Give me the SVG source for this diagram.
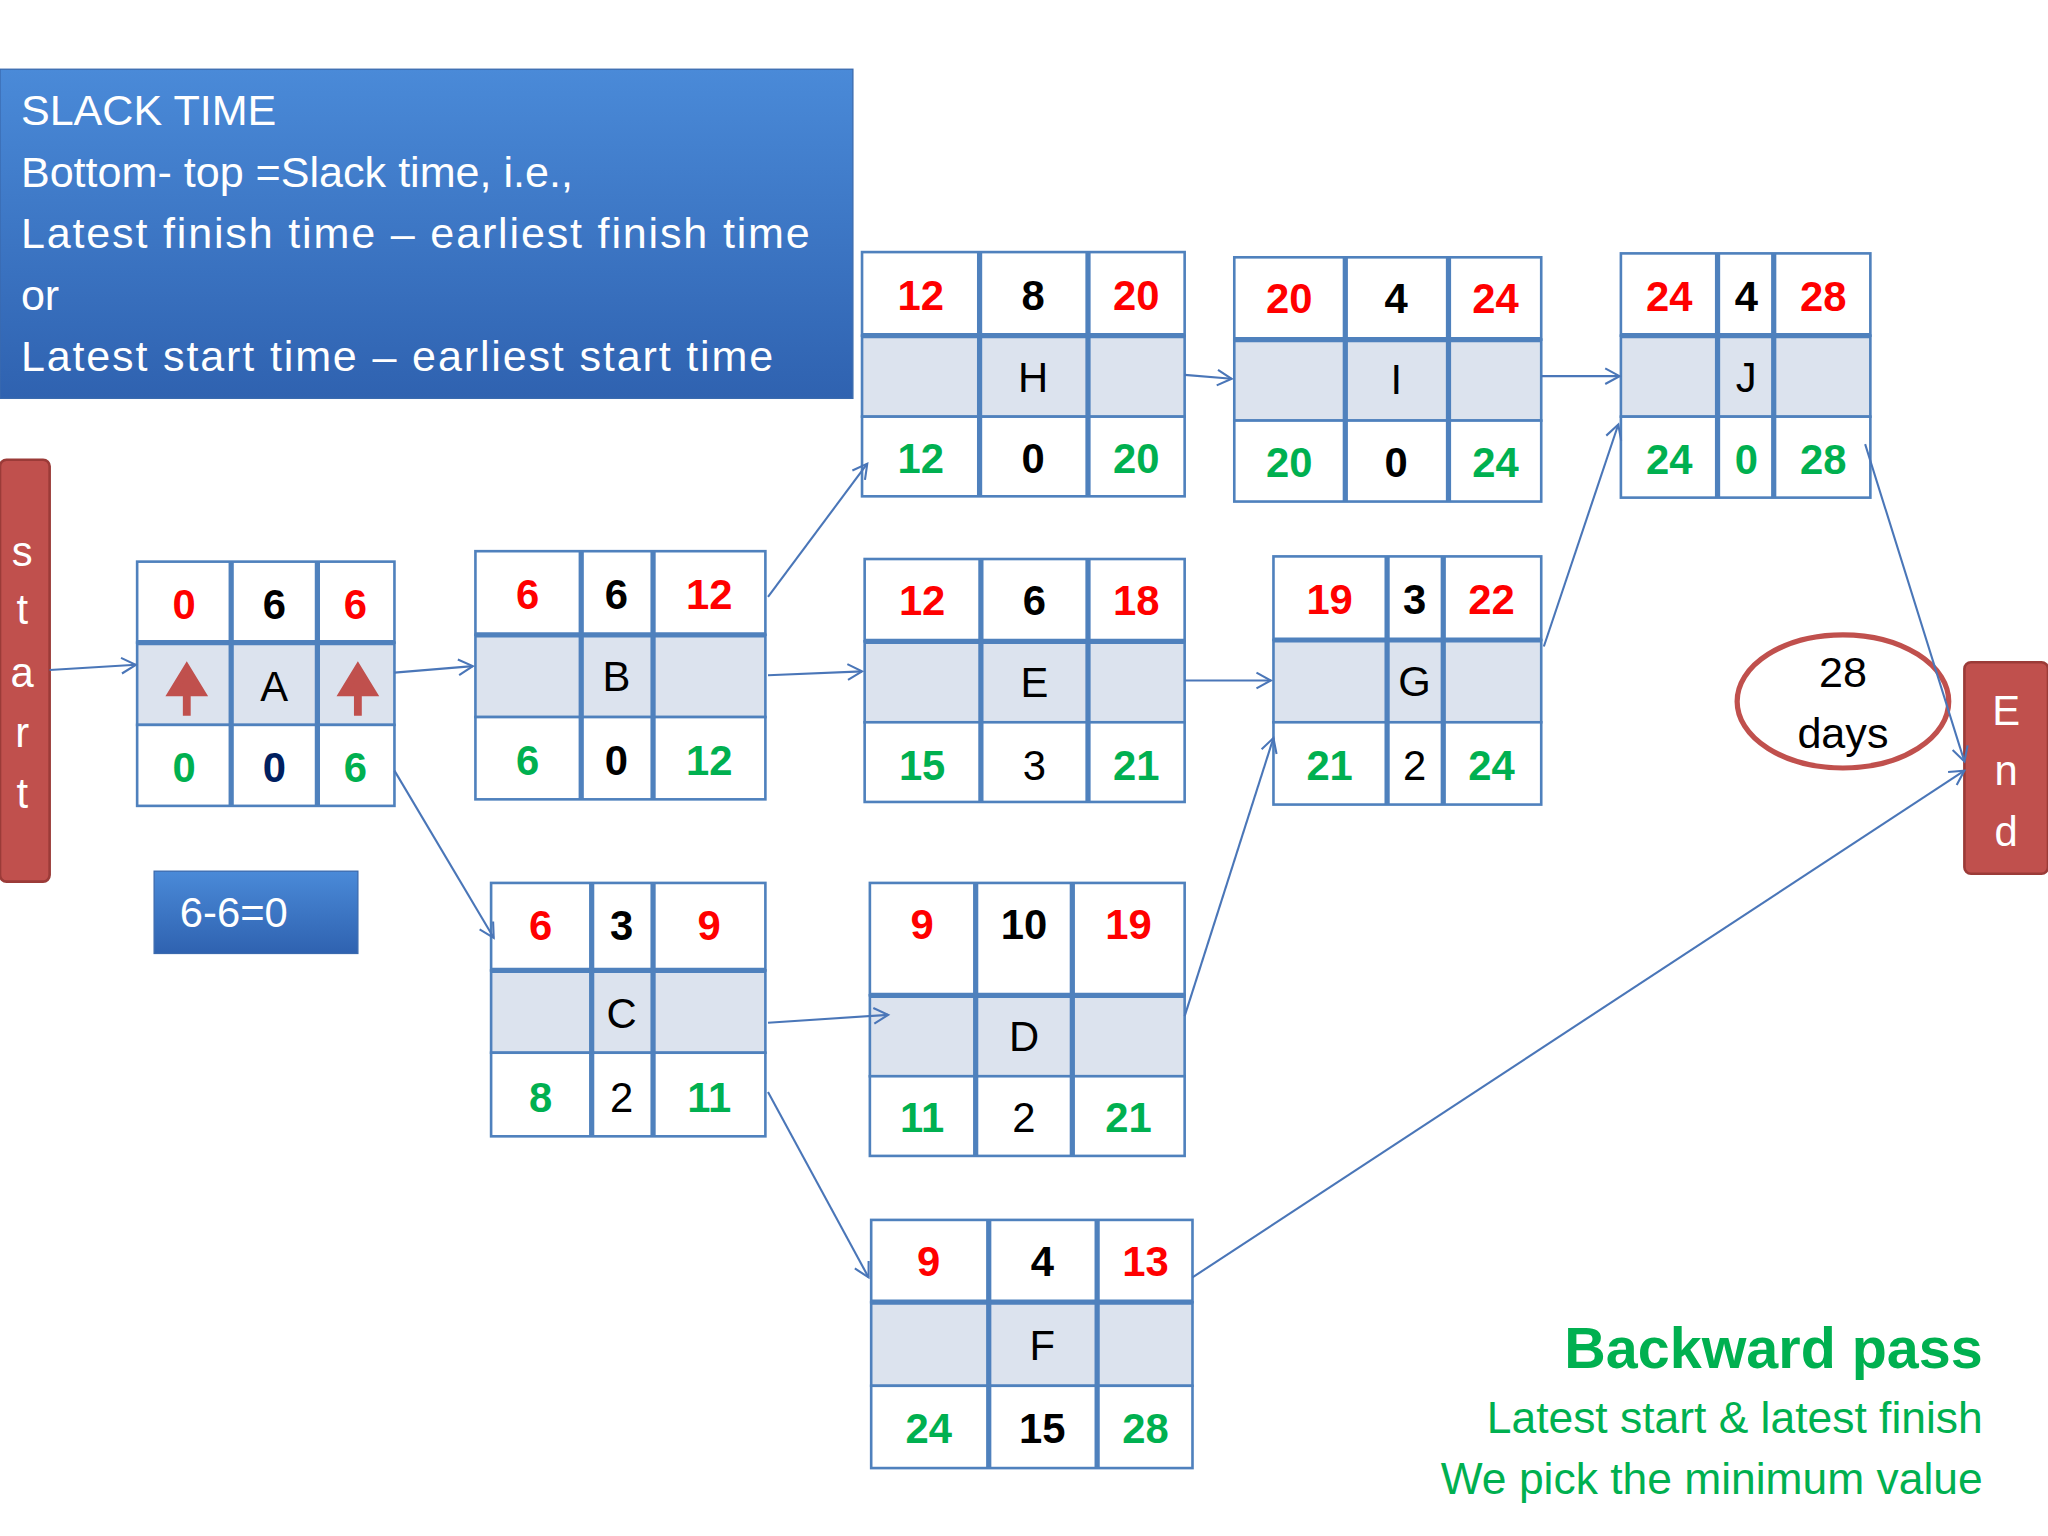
<svg xmlns="http://www.w3.org/2000/svg" width="2048" height="1536" viewBox="0 0 2048 1536">
<defs>
<linearGradient id="bg" x1="0" y1="0" x2="0" y2="1"><stop offset="0" stop-color="#4a8ad8"/><stop offset="1" stop-color="#2f62b0"/></linearGradient>
<marker id="ar" markerWidth="14" markerHeight="14" refX="12" refY="7" orient="auto" markerUnits="userSpaceOnUse"><polyline points="1,1 12,7 1,13" fill="none" stroke="#4a76b8" stroke-width="1.6"/></marker>
<style>
text{font-family:"Liberation Sans",Arial,sans-serif;text-anchor:middle}
.cell{fill:#fff;stroke:#4f81bd;stroke-width:2}
.mid{fill:#dce3ee;stroke:#4f81bd;stroke-width:2}
.sep{stroke:#4f81bd;stroke-width:4}
.r{fill:#ff0000;font-weight:bold;font-size:32px}
.g{fill:#00b050;font-weight:bold;font-size:32px}
.k{fill:#000;font-weight:bold;font-size:32px}
.n{fill:#000;font-size:32px}
.c line,.c polyline{stroke:#4a76b8;stroke-width:1.6;fill:none}
</style>
</defs>
<rect width="2048" height="1536" fill="#fff"/>
<g transform="scale(1.30612)">
<g id="slack"><rect x="0" y="53" width="653" height="252" fill="url(#bg)" stroke="#3a6aae"/>
<g style="text-anchor:start" fill="#fff" font-size="33">
<text x="16" y="96" style="text-anchor:start" fill="#fff">SLACK TIME</text>
<text x="16" y="143" style="text-anchor:start" fill="#fff">Bottom- top =Slack time, i.e.,</text>
<text x="16" y="190" style="text-anchor:start" fill="#fff" textLength="604">Latest finish time – earliest finish time</text>
<text x="16" y="237" style="text-anchor:start" fill="#fff">or</text>
<text x="16" y="284" style="text-anchor:start" fill="#fff" textLength="576">Latest start time – earliest start time</text>
</g></g>
<g id="start"><rect x="0" y="352" width="38" height="323" rx="5" fill="#c0504d" stroke="#9b3b38" stroke-width="2"/>
<g fill="#fff" font-size="32"><text x="17" y="433" fill="#fff">s</text><text x="17" y="478" fill="#fff">t</text><text x="17" y="526" fill="#fff">a</text><text x="17" y="572" fill="#fff">r</text><text x="17" y="619" fill="#fff">t</text></g></g>
<g id="end"><rect x="1504" y="507" width="64" height="162" rx="5" fill="#c0504d" stroke="#9b3b38" stroke-width="2"/>
<text x="1536" y="555" fill="#fff" font-size="32">E</text><text x="1536" y="601" fill="#fff" font-size="32">n</text><text x="1536" y="648" fill="#fff" font-size="32">d</text></g>
<g id="days"><ellipse cx="1411" cy="537" rx="81" ry="51" fill="#fff" stroke="#c0504d" stroke-width="4"/>
<text x="1411" y="526" font-size="33">28</text><text x="1411" y="573" font-size="33">days</text></g>
<g id="calc"><rect x="118" y="667" width="156" height="63" fill="url(#bg)" stroke="#3a6aae"/><text x="179" y="710" fill="#fff" font-size="32">6-6=0</text></g>

<g id="A"><rect class="cell" x="105" y="430" width="197" height="62"/><rect class="mid" x="105" y="492" width="197" height="63"/><rect class="cell" x="105" y="555" width="197" height="62"/>
<line class="sep" x1="105" y1="492" x2="302" y2="492"/><line class="sep" x1="177" y1="430" x2="177" y2="617" stroke-width="2"/><line class="sep" x1="243" y1="430" x2="243" y2="617" stroke-width="2"/>
<text class="r" x="141" y="474">0</text><text class="k" x="210" y="474">6</text><text class="r" x="272" y="474">6</text>
<text class="n" x="210" y="537">A</text>
<path d="M143,548 V528 M132,530 L143,512 L154,530 Z" stroke="#c0504d" stroke-width="6" fill="#c0504d"/>
<path d="M274,548 V528 M263,530 L274,512 L285,530 Z" stroke="#c0504d" stroke-width="6" fill="#c0504d"/>
<text class="g" x="141" y="599">0</text><text class="k" x="210" y="599" fill="#002060" style="fill:#002060">0</text><text class="g" x="272" y="599">6</text></g>

<g id="B"><rect class="cell" x="364" y="422" width="222" height="64"/><rect class="mid" x="364" y="486" width="222" height="63"/><rect class="cell" x="364" y="549" width="222" height="63"/>
<line class="sep" x1="364" y1="486" x2="586" y2="486"/><line class="sep" x1="445" y1="422" x2="445" y2="612" stroke-width="2"/><line class="sep" x1="500" y1="422" x2="500" y2="612" stroke-width="2"/>
<text class="r" x="404" y="466">6</text><text class="k" x="472" y="466">6</text><text class="r" x="543" y="466">12</text>
<text class="n" x="472" y="529">B</text>
<text class="g" x="404" y="593">6</text><text class="k" x="472" y="593">0</text><text class="g" x="543" y="593">12</text></g>

<g id="H"><rect class="cell" x="660" y="193" width="247" height="64"/><rect class="mid" x="660" y="257" width="247" height="62"/><rect class="cell" x="660" y="319" width="247" height="61"/>
<line class="sep" x1="660" y1="257" x2="907" y2="257"/><line class="sep" x1="750" y1="193" x2="750" y2="380" stroke-width="2"/><line class="sep" x1="833" y1="193" x2="833" y2="380" stroke-width="2"/>
<text class="r" x="705" y="237">12</text><text class="k" x="791" y="237">8</text><text class="r" x="870" y="237">20</text>
<text class="n" x="791" y="300">H</text>
<text class="g" x="705" y="362">12</text><text class="k" x="791" y="362">0</text><text class="g" x="870" y="362">20</text></g>

<g id="E"><rect class="cell" x="662" y="428" width="245" height="63"/><rect class="mid" x="662" y="491" width="245" height="62"/><rect class="cell" x="662" y="553" width="245" height="61"/>
<line class="sep" x1="662" y1="491" x2="907" y2="491"/><line class="sep" x1="751" y1="428" x2="751" y2="614" stroke-width="2"/><line class="sep" x1="833" y1="428" x2="833" y2="614" stroke-width="2"/>
<text class="r" x="706" y="471">12</text><text class="k" x="792" y="471">6</text><text class="r" x="870" y="471">18</text>
<text class="n" x="792" y="534">E</text>
<text class="g" x="706" y="597">15</text><text class="n" x="792" y="597">3</text><text class="g" x="870" y="597">21</text></g>

<g id="I"><rect class="cell" x="945" y="197" width="235" height="63"/><rect class="mid" x="945" y="260" width="235" height="62"/><rect class="cell" x="945" y="322" width="235" height="62"/>
<line class="sep" x1="945" y1="260" x2="1180" y2="260"/><line class="sep" x1="1030" y1="197" x2="1030" y2="384" stroke-width="2"/><line class="sep" x1="1109" y1="197" x2="1109" y2="384" stroke-width="2"/>
<text class="r" x="987" y="240">20</text><text class="k" x="1069" y="240">4</text><text class="r" x="1145" y="240">24</text>
<text class="n" x="1069" y="302">I</text>
<text class="g" x="987" y="365">20</text><text class="k" x="1069" y="365">0</text><text class="g" x="1145" y="365">24</text></g>

<g id="G"><rect class="cell" x="975" y="426" width="205" height="64"/><rect class="mid" x="975" y="490" width="205" height="63"/><rect class="cell" x="975" y="553" width="205" height="63"/>
<line class="sep" x1="975" y1="490" x2="1180" y2="490"/><line class="sep" x1="1062" y1="426" x2="1062" y2="616" stroke-width="2"/><line class="sep" x1="1105" y1="426" x2="1105" y2="616" stroke-width="2"/>
<text class="r" x="1018" y="470">19</text><text class="k" x="1083" y="470">3</text><text class="r" x="1142" y="470">22</text>
<text class="n" x="1083" y="533">G</text>
<text class="g" x="1018" y="597">21</text><text class="n" x="1083" y="597">2</text><text class="g" x="1142" y="597">24</text></g>

<g id="J"><rect class="cell" x="1241" y="194" width="191" height="63"/><rect class="mid" x="1241" y="257" width="191" height="62"/><rect class="cell" x="1241" y="319" width="191" height="62"/>
<line class="sep" x1="1241" y1="257" x2="1432" y2="257"/><line class="sep" x1="1315" y1="194" x2="1315" y2="381" stroke-width="2"/><line class="sep" x1="1358" y1="194" x2="1358" y2="381" stroke-width="2"/>
<text class="r" x="1278" y="238">24</text><text class="k" x="1337" y="238">4</text><text class="r" x="1396" y="238">28</text>
<text class="n" x="1337" y="300">J</text>
<text class="g" x="1278" y="363">24</text><text class="g" x="1337" y="363">0</text><text class="g" x="1396" y="363">28</text></g>

<g id="C"><rect class="cell" x="376" y="676" width="210" height="67"/><rect class="mid" x="376" y="743" width="210" height="63"/><rect class="cell" x="376" y="806" width="210" height="64"/>
<line class="sep" x1="376" y1="743" x2="586" y2="743"/><line class="sep" x1="453" y1="676" x2="453" y2="870" stroke-width="2"/><line class="sep" x1="500" y1="676" x2="500" y2="870" stroke-width="2"/>
<text class="r" x="414" y="720">6</text><text class="k" x="476" y="720">3</text><text class="r" x="543" y="720">9</text>
<text class="n" x="476" y="787">C</text>
<text class="g" x="414" y="851">8</text><text class="n" x="476" y="851">2</text><text class="g" x="543" y="851">11</text></g>

<g id="D"><rect class="cell" x="666" y="676" width="241" height="86"/><rect class="mid" x="666" y="762" width="241" height="62"/><rect class="cell" x="666" y="824" width="241" height="61"/>
<line class="sep" x1="666" y1="762" x2="907" y2="762"/><line class="sep" x1="747" y1="676" x2="747" y2="885" stroke-width="2"/><line class="sep" x1="821" y1="676" x2="821" y2="885" stroke-width="2"/>
<text class="r" x="706" y="719">9</text><text class="k" x="784" y="719">10</text><text class="r" x="864" y="719">19</text>
<text class="n" x="784" y="805">D</text>
<text class="g" x="706" y="867">11</text><text class="n" x="784" y="867">2</text><text class="g" x="864" y="867">21</text></g>

<g id="F"><rect class="cell" x="667" y="934" width="246" height="63"/><rect class="mid" x="667" y="997" width="246" height="64"/><rect class="cell" x="667" y="1061" width="246" height="63"/>
<line class="sep" x1="667" y1="997" x2="913" y2="997"/><line class="sep" x1="757" y1="934" x2="757" y2="1124" stroke-width="2"/><line class="sep" x1="840" y1="934" x2="840" y2="1124" stroke-width="2"/>
<text class="r" x="711" y="977">9</text><text class="k" x="798" y="977">4</text><text class="r" x="877" y="977">13</text>
<text class="n" x="798" y="1041">F</text>
<text class="g" x="711" y="1105">24</text><text class="k" x="798" y="1105">15</text><text class="g" x="877" y="1105">28</text></g>

<g id="connectors" class="c">
<line x1="38" y1="513" x2="104" y2="509" marker-end="url(#ar)"/>
<line x1="302" y1="515" x2="362" y2="510" marker-end="url(#ar)"/>
<line x1="302" y1="590" x2="378" y2="718" marker-end="url(#ar)"/>
<line x1="588" y1="457" x2="664" y2="355" marker-end="url(#ar)"/>
<line x1="588" y1="517" x2="660" y2="514" marker-end="url(#ar)"/>
<line x1="907" y1="287" x2="943" y2="290" marker-end="url(#ar)"/>
<line x1="1180" y1="288" x2="1240" y2="288" marker-end="url(#ar)"/>
<line x1="907" y1="521" x2="973" y2="521" marker-end="url(#ar)"/>
<line x1="1182" y1="495" x2="1239" y2="325" marker-end="url(#ar)"/>
<line x1="588" y1="783" x2="680" y2="777" marker-end="url(#ar)"/>
<line x1="907" y1="778" x2="975" y2="565" marker-end="url(#ar)"/>
<line x1="588" y1="836" x2="665" y2="978" marker-end="url(#ar)"/>
<line x1="913" y1="978" x2="1504" y2="590" marker-end="url(#ar)"/>
<line x1="1428" y1="340" x2="1504" y2="583" marker-end="url(#ar)"/>
</g>

<g id="legend" style="text-anchor:end">
<text x="1518" y="1047" style="text-anchor:end;font-weight:bold" fill="#00b050" font-size="44">Backward pass</text>
<text x="1518" y="1097" style="text-anchor:end" fill="#00b050" font-size="34">Latest start &amp; latest finish</text>
<text x="1518" y="1144" style="text-anchor:end" fill="#00b050" font-size="34">We pick the minimum value</text>
</g>
</g>
</svg>
